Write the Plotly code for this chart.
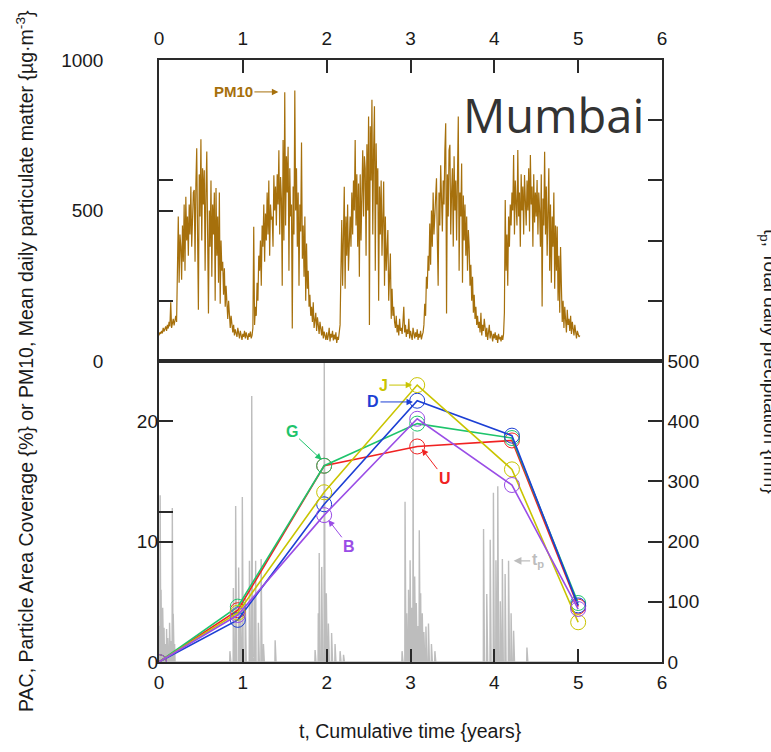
import numpy as np
import plotly.graph_objects as go

# ---------------- data ----------------
# PM10, mean daily particulate matter (ug/m3), sampled every 0.01 year from t = 0
pm10 = [
    # year 0
    85, 95, 90, 100, 92, 110, 98, 105, 115, 100,
    120, 108, 130, 115, 195, 110, 125, 140, 118, 135,
    150, 130, 300, 480, 260, 420, 380, 270, 450, 330,
    520, 300, 546, 400, 480, 350, 520, 420, 580, 380,
    470, 560, 568, 330, 590, 707, 420, 170, 620, 480,
    737, 400, 640, 520, 634, 300, 560, 696, 420, 158,
    500, 380, 600, 280, 520, 420, 560, 200, 575, 350,
    480, 260, 560, 190, 400, 300, 330, 220, 308, 180,
    250, 160, 140, 200, 130, 110, 150, 100, 95, 120,
    85, 105, 90, 80, 110, 95, 75, 100, 88, 70,
    # year 1
    90, 80, 100, 75, 95, 85, 70, 92, 80, 98,
    75, 85, 110, 446, 120, 180, 150, 260, 200, 350,
    300, 400, 250, 450, 380, 520, 330, 490, 400, 560,
    420, 600, 350, 520, 470, 480, 380, 617, 500, 580,
    450, 620, 520, 700, 420, 611, 540, 250, 734, 400,
    893, 450, 680, 560, 712, 300, 640, 480, 520, 108,
    580, 420, 899, 500, 640, 380, 560, 250, 520, 430,
    726, 340, 450, 280, 480, 200, 390, 240, 300, 180,
    220, 150, 180, 130, 195, 110, 140, 160, 100, 145,
    120, 90, 130, 105, 85, 115, 75, 98, 80, 70,
    # year 2
    95, 70, 85, 110, 65, 90, 78, 100, 68, 88,
    72, 95, 60, 80, 70, 100, 120, 300, 468, 250,
    420, 579, 240, 480, 350, 520, 300, 440, 480, 380,
    560, 420, 600, 500, 734, 450, 620, 380, 590, 280,
    620, 400, 560, 700, 480, 680, 640, 350, 720, 500,
    812, 120, 780, 600, 868, 420, 700, 846, 300, 723,
    520, 640, 200, 580, 420, 600, 350, 500, 596, 250,
    480, 300, 420, 435, 200, 330, 357, 140, 240, 150,
    180, 130, 110, 150, 95, 120, 85, 140, 100, 110,
    90, 130, 180, 95, 120, 80, 105, 90, 140, 75,
    # year 3
    100, 85, 70, 110, 90, 75, 95, 80, 105, 70,
    90, 78, 100, 72, 85, 95, 120, 190, 150, 280,
    240, 350, 300, 457, 320, 500, 380, 560, 420, 480,
    520, 607, 400, 250, 560, 450, 650, 500, 430, 600,
    520, 700, 790, 158, 620, 480, 700, 718, 420, 560,
    640, 380, 680, 500, 600, 400, 740, 812, 300, 560,
    480, 656, 260, 550, 400, 520, 350, 480, 300, 435,
    380, 250, 320, 200, 280, 160, 220, 140, 180, 120,
    150, 110, 130, 95, 160, 85, 120, 100, 140, 90,
    80, 110, 70, 95, 120, 75, 100, 85, 65, 90,
    # year 4
    75, 95, 70, 85, 60, 90, 72, 80, 65, 85,
    70, 90, 160, 535, 300, 420, 250, 480, 380, 520,
    450, 560, 500, 684, 420, 600, 520, 450, 701, 480,
    560, 380, 620, 500, 580, 420, 618, 540, 450, 600,
    500, 640, 430, 684, 520, 580, 380, 620, 460, 560,
    480, 601, 420, 560, 500, 380, 620, 181, 540, 450,
    695, 420, 580, 350, 600, 640, 300, 520, 260, 480,
    380, 560, 240, 450, 300, 447, 200, 350, 160, 379,
    250, 130, 200, 110, 180, 150, 95, 170, 120, 140,
    100, 150, 90, 130, 110, 85, 120, 95, 75, 100,
    # year 5
    90, 80, 85,
]
pm10_step = 0.01

# Rain days (cumulative time in years, total daily precipitation in mm); all other days are dry
rain_t = [
    0.005, 0.015, 0.025, 0.035, 0.045, 0.06, 0.075, 0.09, 0.105, 0.125, 0.14, 0.16, 0.17, 0.185,
    0.847, 0.887, 0.915, 0.95, 0.97, 0.995, 1.03, 1.078, 1.106, 1.135, 1.154, 1.185, 1.217, 1.245, 1.385,
    1.862, 1.90, 1.91, 1.94, 1.97, 1.995, 2.02, 2.06, 2.10, 2.16, 2.20,
    2.90, 2.935, 2.955, 2.975, 2.995, 3.015, 3.03, 3.05, 3.07, 3.09, 3.105, 3.12, 3.14, 3.16, 3.185,
    3.215, 3.25, 3.29,
    3.87, 3.91, 3.95, 3.99, 4.02, 4.04, 4.07, 4.097, 4.13, 4.17, 4.20, 4.23, 4.39,
]
rain_mm = [
    60, 277, 120, 50, 90, 57, 30, 55, 40, 65, 35, 256, 80, 30,
    18, 123, 259, 157, 80, 274, 110, 168, 442, 110, 168, 65, 171, 30, 36,
    20, 81, 181, 158, 497, 114, 64, 48, 30, 18, 12,
    18, 266, 81, 120, 169, 90, 383, 142, 98, 60, 219, 114, 81, 50, 59,
    64, 30, 18,
    221, 113, 203, 281, 169, 292, 101, 171, 146, 168, 81, 52, 24,
]
days_per_year = 365.25
n_days = 1830

# PAC, particle area coverage (%) at each sampling time, per site
pac_t = [0, 0.94, 1.97, 3.08, 4.21, 5.0]
pac_U = [0, 4.3, 16.3, 17.9, 18.4, 4.6]
pac_G = [0, 4.6, 16.3, 19.8, 18.6, 4.9]
pac_D = [0, 3.5, 13.1, 21.7, 18.8, 4.7]
pac_J = [0, 4.1, 14.1, 23.0, 16.0, 3.3]
pac_B = [0, 3.9, 12.2, 20.2, 14.7, 4.4]

x_ticks = [0, 1, 2, 3, 4, 5, 6]

# ---------------- derived series ----------------
pm10_t = np.arange(len(pm10)) * pm10_step

rain_daily = np.zeros(n_days + 1)
for t, mm in zip(rain_t, rain_mm):
    d = int(round(t * days_per_year))
    rain_daily[d] = max(rain_daily[d], mm)
rain_days_t = np.arange(n_days + 1) / days_per_year

# ---------------- styling ----------------
BROWN = "#A6700C"
GREY = "#BDBDBD"
AX = "#2a2a2a"
FONT = "Arial, Liberation Sans, sans-serif"
series = [
    ("U", pac_U, "#F02222"),
    ("G", pac_G, "#1EC46C"),
    ("D", pac_D, "#1C3FD4"),
    ("J", pac_J, "#C9C400"),
    ("B", pac_B, "#9A4DE6"),
]

fig = go.Figure()

# precipitation (right axis of the lower panel), drawn underneath the PAC lines
fig.add_trace(go.Scatter(
    x=rain_days_t, y=rain_daily, xaxis="x", yaxis="y", mode="lines",
    line=dict(color=GREY, width=1.4), showlegend=False, hoverinfo="skip",
))

for name, vals, col in series:
    fig.add_trace(go.Scatter(
        x=pac_t, y=vals, xaxis="x", yaxis="y3", mode="lines+markers", name=name,
        line=dict(color=col, width=1.6),
        marker=dict(symbol="circle-open", size=15, color=col, line=dict(width=1, color=col)),
        showlegend=False,
    ))

# PM10 (upper panel)
fig.add_trace(go.Scatter(
    x=pm10_t, y=pm10, xaxis="x2", yaxis="y2", mode="lines",
    line=dict(color=BROWN, width=1.2), showlegend=False,
))
# keeps the right-hand axis of the upper panel on the page
fig.add_trace(go.Scatter(x=[None], y=[None], xaxis="x2", yaxis="y4", showlegend=False))

tick_common = dict(ticks="inside", tickcolor=AX, tickwidth=1.5, showgrid=False, zeroline=False,
                   tickfont=dict(family=FONT, size=19, color="#1a1a1a"), automargin=False)

fig.update_layout(
    width=771, height=752,
    margin=dict(l=159, r=109, t=60, b=90),
    paper_bgcolor="white", plot_bgcolor="white",
    showlegend=False,
    xaxis=dict(domain=[0, 1], anchor="y", range=[0, 6], tickvals=x_ticks, ticklen=13,
               ticklabelstandoff=2,
               showline=True, linewidth=2, linecolor=AX, mirror=True, **tick_common),
    yaxis=dict(domain=[0, 0.5], anchor="x", side="right", range=[0, 500],
               tickvals=[0, 100, 200, 300, 400, 500], ticklen=14,
               showline=True, linewidth=1.5, linecolor=AX, mirror=True, **tick_common),
    yaxis3=dict(overlaying="y", anchor="x", side="left", range=[0, 25],
                tickvals=[0, 10, 12.5, 20], ticktext=["0", "10", "", "20"], ticklen=14,
                showline=False, **tick_common),
    xaxis2=dict(domain=[0, 1], anchor="y2", side="top", range=[0, 6], tickvals=x_ticks, ticklen=13,
                ticklabelstandoff=6,
                showline=True, linewidth=1.5, linecolor=AX, mirror=True, **tick_common),
    yaxis2=dict(domain=[0.5, 1], anchor="x2", side="left", range=[0, 1000],
                tickvals=[0, 200, 500, 600, 1000], ticktext=["0", "", "500", "", "1000"],
                ticklen=14, ticklabelstandoff=50,
                showline=True, linewidth=1.5, linecolor=AX, mirror=True, **tick_common),
    yaxis4=dict(overlaying="y2", anchor="x2", side="right", range=[0, 1000],
                tickvals=[200, 400, 600, 800], showticklabels=False, ticklen=14,
                showline=False, **tick_common),
)

ann = []
# axis titles
ann.append(dict(xref="paper", yref="paper", x=0, y=0.5, xshift=-134, xanchor="center", yanchor="middle",
                showarrow=False, textangle=-90,
                text="PAC, Particle Area Coverage {%} or PM10, Mean daily particulate matter {µg·m<sup>-3</sup>}",
                font=dict(family=FONT, size=19.5, color="#1a1a1a")))
ann.append(dict(xref="paper", yref="paper", x=1, y=0.5, xshift=107, xanchor="center", yanchor="middle",
                showarrow=False, textangle=90,
                text="t<sub>p</sub>, Total daily precipitation {mm}",
                font=dict(family=FONT, size=19, color="#1a1a1a")))
ann.append(dict(xref="paper", yref="paper", x=0.5, y=0, yshift=-69, xanchor="center", yanchor="middle",
                showarrow=False, text="t, Cumulative time {years}",
                font=dict(family=FONT, size=19.5, color="#1a1a1a")))
# city name
ann.append(dict(xref="paper", yref="paper", x=0.784, y=0.965, xanchor="center", yanchor="top",
                showarrow=False, text="Mumbai",
                font=dict(family="Open Sans, Noto Sans, sans-serif", size=47, color="#333333")))
# PM10 pointer
ann.append(dict(xref="x2", yref="y2", x=1.424, y=894, ax=-45, ay=0, text="<b>PM10</b>",
                font=dict(family=FONT, size=15, color=BROWN), showarrow=True,
                arrowhead=2, arrowsize=1.3, arrowwidth=1, arrowcolor=BROWN))
# site labels
site_labels = [
    ("J", 3.02, 23.0, -29, 0),
    ("D", 3.03, 21.6, -40, 0),
    ("G", 1.94, 16.8, -30, -28),
    ("U", 3.135, 17.7, 23, 30),
    ("B", 2.02, 11.8, 21, 27),
]
colours = {name: col for name, _, col in series}
for name, tx, ty, axp, ayp in site_labels:
    ann.append(dict(xref="x", yref="y3", x=tx, y=ty, ax=axp, ay=ayp, text=f"<b>{name}</b>",
                    font=dict(family=FONT, size=16, color=colours[name]), showarrow=True,
                    arrowhead=2, arrowsize=1.3, arrowwidth=1, arrowcolor=colours[name]))
# precipitation pointer
ann.append(dict(xref="x", yref="y", x=4.23, y=168, ax=24, ay=0, text="<b>t<sub>p</sub></b>",
                font=dict(family=FONT, size=16, color=GREY), showarrow=True,
                arrowhead=2, arrowsize=1.3, arrowwidth=1.2, arrowcolor=GREY))
fig.update_layout(annotations=ann)

fig.write_html("out.html")
